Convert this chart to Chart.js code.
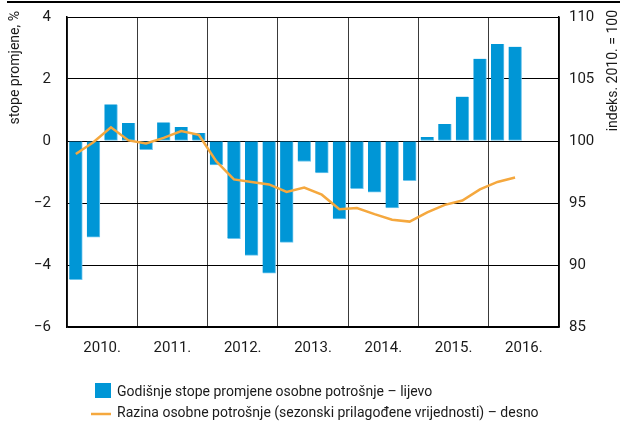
<!DOCTYPE html>
<html>
<head>
<meta charset="utf-8">
<script src="https://cdn.jsdelivr.net/npm/chart.js@4"></script>
<style>
  body { margin: 0; background: #fff; }
  #wrap { width: 620px; height: 425px; position: relative; }
</style>
</head>
<body>
<div id="wrap"><canvas id="grafikon"></canvas></div>
<script>
// Godine (oznake na osi x)
const godine = ['2010.', '2011.', '2012.', '2013.', '2014.', '2015.', '2016.'];

// Tromjesečja
const tromjesecja = [
    '2010Q1', '2010Q2', '2010Q3', '2010Q4',
    '2011Q1', '2011Q2', '2011Q3', '2011Q4',
    '2012Q1', '2012Q2', '2012Q3', '2012Q4',
    '2013Q1', '2013Q2', '2013Q3', '2013Q4',
    '2014Q1', '2014Q2', '2014Q3', '2014Q4',
    '2015Q1', '2015Q2', '2015Q3', '2015Q4',
    '2016Q1', '2016Q2'
];

// Godišnje stope promjene osobne potrošnje (lijevo, %)
const stopePromjene = [
    -4.47, -3.10, 1.18, 0.58,
    -0.28, 0.60, 0.45, 0.26,
    -0.77, -3.15, -3.69, -4.26,
    -3.27, -0.66, -1.03, -2.51,
    -1.54, -1.65, -2.16, -1.28,
    0.13, 0.55, 1.43, 2.65,
    3.13, 3.04
];

// Razina osobne potrošnje, indeks 2010. = 100 (desno)
const razinaPotrosnje = [
    98.95, 99.9, 101.1, 100.05,
    99.8, 100.25, 100.8, 100.5,
    98.35, 96.9, 96.7, 96.5,
    95.9, 96.25, 95.67, 94.5,
    94.6, 94.1, 93.65, 93.5,
    94.25, 94.85, 95.2, 96.1,
    96.7, 97.05
];

// Tikovi osi
const tikoviLijevo = [-6, -4, -2, 0, 2, 4];
const tikoviDesno = [85, 90, 95, 100, 105, 110];

const FONT = "Roboto, 'Liberation Sans', sans-serif";
const PLAVA = '#0096d6';
const NARANCASTA = '#f5a83e';

Chart.defaults.font.family = FONT;
Chart.defaults.color = '#1a1a1a';

// x pozicija = indeks tromjesečja + 0.5 (sredina polja)
const stupci = tromjesecja.map((q, i) => ({ x: i + 0.5, y: stopePromjene[i] }));
const linija = tromjesecja.map((q, i) => ({ x: i + 0.5, y: razinaPotrosnje[i] }));

const minus = v => String(v).replace('-', '\u2212');

// Dodatni crtež: naslovi osi, gornja crta i legenda
const ukrasi = {
    id: 'ukrasi',
    afterDraw(chart) {
        const ctx = chart.ctx;
        ctx.save();
        // gornja crta
        ctx.strokeStyle = '#000';
        ctx.lineWidth = 2;
        ctx.beginPath();
        ctx.moveTo(7, 2);
        ctx.lineTo(620, 2);
        ctx.stroke();

        // naslovi osi
        ctx.fillStyle = '#1a1a1a';
        ctx.font = '14px ' + FONT;
        ctx.textBaseline = 'middle';
        ctx.textAlign = 'right';
        ctx.save();
        ctx.translate(15, 11);
        ctx.rotate(-Math.PI / 2);
        ctx.fillText('stope promjene, %', 0, 0);
        ctx.restore();
        ctx.save();
        ctx.translate(613, 10);
        ctx.rotate(-Math.PI / 2);
        ctx.fillText('indeks. 2010. = 100', 0, 0);
        ctx.restore();

        // legenda
        ctx.textAlign = 'left';
        ctx.fillStyle = PLAVA;
        ctx.fillRect(95, 383, 16, 15);
        ctx.fillStyle = '#1a1a1a';
        ctx.fillText('Godišnje stope promjene osobne potrošnje \u2013 lijevo', 117, 392);
        ctx.strokeStyle = NARANCASTA;
        ctx.lineWidth = 2.5;
        ctx.beginPath();
        ctx.moveTo(91, 414);
        ctx.lineTo(111, 414);
        ctx.stroke();
        ctx.fillText('Razina osobne potrošnje (sezonski prilagođene vrijednosti) \u2013 desno', 117, 413);
        ctx.restore();
    }
};

// vertikalne osi: fiksna širina, bez dodatnog razmaka gore/dolje
const fiksnaOs = sirina => s => {
    s.width = sirina;
    s.paddingTop = 0;
    s.paddingBottom = 0;
};

const config = {
    data: {
        datasets: [
            {
                type: 'line',
                label: 'Razina osobne potrošnje',
                data: linija,
                yAxisID: 'y2',
                borderColor: NARANCASTA,
                borderWidth: 2.5,
                pointRadius: 0,
                tension: 0,
                order: 0
            },
            {
                type: 'bar',
                label: 'Godišnje stope promjene',
                data: stupci,
                yAxisID: 'y',
                backgroundColor: PLAVA,
                borderColor: '#6cc4ec',
                borderWidth: { right: 1, bottom: 1 },
                borderSkipped: false,
                barThickness: 13,
                order: 1
            }
        ]
    },
    options: {
        responsive: true,
        maintainAspectRatio: false,
        animation: false,
        layout: { padding: { top: 17, left: 0, right: 0, bottom: 0 } },
        plugins: {
            legend: { display: false },
            tooltip: { enabled: false }
        },
        scales: {
            x: {
                type: 'linear',
                offset: false,
                min: 0,
                max: 28,
                afterBuildTicks: s => {
                    s.ticks = [];
                    for (let v = 0; v <= 28; v += 2) s.ticks.push({ value: v });
                },
                afterFit: s => {
                    s.height = 98;
                    s.paddingLeft = 0;
                    s.paddingRight = 0;
                },
                grid: {
                    offset: false,
                    color: c => (c.index % 2 === 0) ? '#3a3a3a' : 'rgba(0,0,0,0)',
                    lineWidth: 1,
                    drawTicks: false
                },
                border: { color: '#000', width: 1.5 },
                ticks: {
                    autoSkip: false,
                    maxRotation: 0,
                    padding: 12,
                    font: { size: 15 },
                    callback: v => (v % 4 === 2) ? godine[(v - 2) / 4] : ''
                }
            },
            y: {
                position: 'left',
                min: -6,
                max: 4,
                afterBuildTicks: s => { s.ticks = tikoviLijevo.map(v => ({ value: v })); },
                afterFit: fiksnaOs(67),
                grid: { color: '#000', lineWidth: 1, drawTicks: false },
                border: { color: '#000', width: 1.5 },
                ticks: { padding: 16, font: { size: 15 }, callback: v => minus(v) }
            },
            y2: {
                position: 'right',
                min: 85,
                max: 110,
                afterBuildTicks: s => { s.ticks = tikoviDesno.map(v => ({ value: v })); },
                afterFit: fiksnaOs(61),
                grid: { drawOnChartArea: false, drawTicks: false },
                border: { color: '#000', width: 1.5 },
                ticks: { padding: 10, font: { size: 15 } }
            }
        }
    },
    plugins: [ukrasi]
};

new Chart(document.getElementById('grafikon'), config);
</script>
</body>
</html>
